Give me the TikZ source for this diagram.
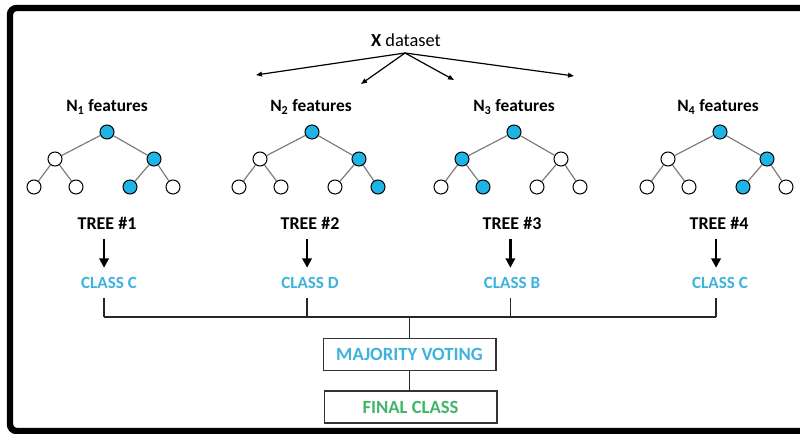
\documentclass[tikz,border=0pt]{standalone}
\usepackage{fontspec}
\setmainfont{Carlito}
\usetikzlibrary{arrows.meta}
\definecolor{nodeblue}{RGB}{30,180,230}
\definecolor{classblue}{RGB}{62,178,220}
\definecolor{finalgreen}{RGB}{64,182,104}
\definecolor{edgegray}{RGB}{125,125,125}
\newcommand{\mytree}[9]{%
  \node[#3] (#1r) at (#2,132) {};
  \node[#4] (#1a) at (#2-52,159) {};
  \node[#5] (#1b) at (#2+47,159) {};
  \node[#6] (#1aa) at (#2-73,187) {};
  \node[#7] (#1ab) at (#2-31,187) {};
  \node[#8] (#1ba) at (#2+23,187) {};
  \node[#9] (#1bb) at (#2+66,187) {};
  \draw[te] (#1r) -- (#1a);
  \draw[te] (#1r) -- (#1b);
  \draw[te] (#1a) -- (#1aa);
  \draw[te] (#1a) -- (#1ab);
  \draw[te] (#1b) -- (#1ba);
  \draw[te] (#1b) -- (#1bb);
}
\newcommand{\vote}[2]{%
  \draw[tarr] ([xshift=#2]#1t.base) -- ([xshift=#2]#1t.base |- #1c.north);
  \draw[busline] ([xshift=#2,yshift=-7pt]#1t.base |- #1c.south) -- ([xshift=#2]#1t.base |- bus);
}
\begin{document}
\begin{tikzpicture}[x=0.75pt,y=-0.75pt,
  tn/.style={circle,draw=black,line width=0.75pt,minimum size=10.5pt,inner sep=0pt,fill=white},
  tf/.style={tn,fill=nodeblue},
  te/.style={draw=edgegray,line width=0.9pt},
  lbl/.style={font=\bfseries\fontsize{13}{15}\selectfont,inner sep=0pt},
  treelbl/.style={font=\bfseries\fontsize{13.5}{15}\selectfont,inner sep=0pt},
  cls/.style={font=\bfseries\fontsize{12.8}{15}\selectfont,inner sep=0pt,text=classblue},
  darr/.style={draw=black,line width=0.9pt,-{Triangle[length=4.5pt,width=3.5pt]}},
  tarr/.style={draw=black,line width=1.7pt,-{Triangle[length=7pt,width=7pt]},shorten <=7.5pt,shorten >=7pt},
  busline/.style={draw=black!85,line width=1pt},
  boxnode/.style={draw=black!80,line width=1pt,minimum width=129.5pt,minimum height=24pt,inner sep=0pt,font=\bfseries\fontsize{14}{16}\selectfont}
]
\useasboundingbox (0,0) rectangle (800,434);
\clip (0,0) rectangle (800,434);
\draw[line width=4.8pt,rounded corners=5pt] (815,8) -- (10,8) -- (10,431) -- (815,431);

% dataset
\node[inner sep=0pt,font=\fontsize{13.8}{16}\selectfont] (xd) at (406,40) {\textbf{X} dataset};
\coordinate (xs) at (405,53);
\coordinate (d1) at (256,75);
\coordinate (d2) at (361,84);
\coordinate (d3) at (454,80);
\coordinate (d4) at (574,76);
\draw[darr] (xs) -- (d1);
\draw[darr] (xs) -- (d2);
\draw[darr] (xs) -- (d3);
\draw[darr] (xs) -- (d4);

% feature labels
\node[lbl] (n1) at (107,107) {N\textsubscript{1} features};
\node[lbl] (n2) at (311,107) {N\textsubscript{2} features};
\node[lbl] (n3) at (514,107) {N\textsubscript{3} features};
\node[lbl] (n4) at (718,107) {N\textsubscript{4} features};

% trees
\mytree{ta}{107}{tf}{tn}{tf}{tn}{tn}{tf}{tn}
\mytree{tb}{312}{tf}{tn}{tf}{tn}{tn}{tn}{tf}
\mytree{tc}{514}{tf}{tf}{tn}{tn}{tf}{tn}{tn}
\mytree{td}{720}{tf}{tn}{tf}{tn}{tn}{tf}{tn}

% tree labels
\node[treelbl] (1t) at (107,223) {TREE \#1};
\node[treelbl] (2t) at (310,223) {TREE \#2};
\node[treelbl] (3t) at (512,223) {TREE \#3};
\node[treelbl] (4t) at (719,223) {TREE \#4};

% classes
\node[cls] (1c) at (109,283) {CLASS C};
\node[cls] (2c) at (310,283) {CLASS D};
\node[cls] (3c) at (512,283) {CLASS B};
\node[cls] (4c) at (720,283) {CLASS C};

% boxes
\node[boxnode,text=classblue] (mv) at (409.5,354.5) {MAJORITY VOTING};
\node[boxnode,text=finalgreen] (fc) at (410.5,407) {FINAL CLASS};
\coordinate (bus) at (409.5,317);

\vote{1}{-2.2pt}
\vote{2}{-2.2pt}
\vote{3}{-1.2pt}
\vote{4}{-2.2pt}
\draw[busline] ([xshift=-2.2pt]1t.base |- bus) -- ([xshift=-2.2pt]4t.base |- bus);
\draw[busline] (bus) -- (mv.north);
\draw[busline] (mv.south) -- (fc.north -| mv.south);
\end{tikzpicture}
\end{document}
